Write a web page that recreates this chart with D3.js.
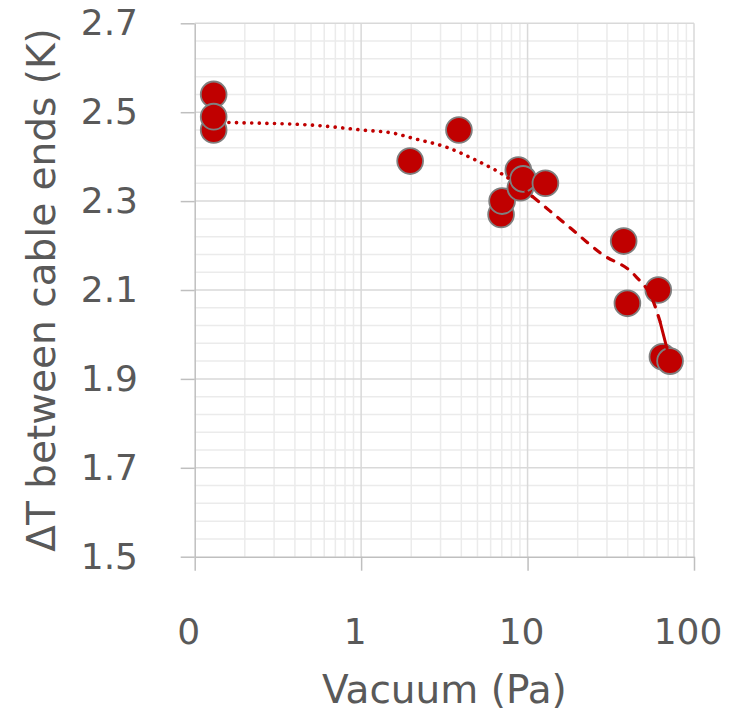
<!DOCTYPE html>
<html>
<head>
<meta charset="utf-8">
<script src="https://cdn.jsdelivr.net/npm/d3@7"></script>
<style>
  html, body { margin: 0; padding: 0; background: #fff; }
  svg { display: block; }
</style>
</head>
<body>
<svg id="chart" width="737" height="716"></svg>
<script>
// ---- data ----
const vacuumPa = [0.13, 0.13, 0.13, 1.97, 3.87, 6.93, 7.03, 8.8, 9.05, 9.4, 12.8, 37.8, 39.8, 61, 64.6, 71.8];
const deltaT   = [2.54, 2.46, 2.49, 2.39, 2.46, 2.27, 2.30, 2.37, 2.33, 2.35, 2.34, 2.21, 2.07, 2.10, 1.95, 1.94];

// trendline as drawn in the reference
const trendX = [0.13, 0.159, 0.505, 1.008, 1.6, 2.06, 3.27, 4.95, 6.53, 7.85, 10.8, 13.6, 18.4, 27.9, 44.3, 57, 62.5, 68.7, 71.8];
const trendY = [2.478, 2.477, 2.471, 2.460, 2.452, 2.441, 2.421, 2.391, 2.368, 2.349, 2.309, 2.278, 2.237, 2.181, 2.132, 2.074, 2.029, 1.969, 1.94];
const trendDottedUntil = 10.8;   // x where dotted look ends
const trendSolidFrom = 62.5;     // x where solid look begins

const xTickValues = [0.1, 1, 10, 100];
const xTickLabels = ["0", "1", "10", "100"];
const yTickValues = [1.5, 1.7, 1.9, 2.1, 2.3, 2.5, 2.7];
const yTickLabels = ["1.5", "1.7", "1.9", "2.1", "2.3", "2.5", "2.7"];
const xDomain = [0.1, 100];
const yDomain = [1.5, 2.7];
const xTitle = "Vacuum (Pa)";
const yTitle = "ΔT between cable ends (K)";

(function () {
// ---- layout ----
const svg = d3.select("#chart");
const pLeft = 194.7, pRight = 694, pTop = 23.3, pBottom = 556.7;
const font = "Verdana, 'DejaVu Sans', sans-serif";
const textColor = "#595959";
const red = "#c00000";

const x = d3.scaleLog().domain(xDomain).range([pLeft, pRight]);
const y = d3.scaleLinear().domain(yDomain).range([pBottom, pTop]);

// minor grid values
const xMinor = [];
for (let d = 0.1; d < 100; d *= 10) {
  for (let k = 2; k <= 9; k++) xMinor.push(+(d * k).toPrecision(3));
}
const yMinor = d3.range(0, 31).map(i => +(yDomain[0] + i * 0.04).toFixed(2))
  .filter(v => !yTickValues.some(t => Math.abs(t - v) < 1e-6));

const grid = svg.append("g");
grid.selectAll("line.ym").data(yMinor).join("line")
  .attr("x1", pLeft).attr("x2", pRight)
  .attr("y1", d => y(d)).attr("y2", d => y(d))
  .attr("stroke", "#ebebeb").attr("stroke-width", 1.5);
grid.selectAll("line.xm").data(xMinor).join("line")
  .attr("y1", pTop).attr("y2", pBottom)
  .attr("x1", d => x(d)).attr("x2", d => x(d))
  .attr("stroke", "#ebebeb").attr("stroke-width", 1.5);
grid.selectAll("line.yM").data(yTickValues.slice(1)).join("line")
  .attr("x1", pLeft).attr("x2", pRight)
  .attr("y1", d => y(d)).attr("y2", d => y(d))
  .attr("stroke", "#d9d9d9").attr("stroke-width", 1.5);
grid.selectAll("line.xM").data(xTickValues.slice(1)).join("line")
  .attr("y1", pTop).attr("y2", pBottom)
  .attr("x1", d => x(d)).attr("x2", d => x(d))
  .attr("stroke", "#d9d9d9").attr("stroke-width", 1.5);

// axes
const xAxis = d3.axisBottom(x).tickValues(xTickValues)
  .tickFormat((d, i) => xTickLabels[i]).tickSizeInner(14).tickSizeOuter(0);
const gx = svg.append("g").attr("transform", `translate(0,${pBottom})`).call(xAxis);
gx.select(".domain").attr("stroke", "#bfbfbf").attr("stroke-width", 1.5);
gx.selectAll(".tick line").attr("stroke", "#bfbfbf").attr("stroke-width", 1.5);
gx.selectAll(".tick text")
  .attr("y", 87).attr("dy", null).attr("dx", -6.5)
  .attr("fill", textColor).style("font-family", font).style("font-size", "36px");

const yAxis = d3.axisLeft(y).tickValues(yTickValues)
  .tickFormat((d, i) => yTickLabels[i]).tickSizeInner(14).tickSizeOuter(0).tickPadding(42.7);
const gy = svg.append("g").attr("transform", `translate(${pLeft},0)`).call(yAxis);
gy.select(".domain").attr("stroke", "#bfbfbf").attr("stroke-width", 1.5);
gy.selectAll(".tick line").attr("stroke", "#bfbfbf").attr("stroke-width", 1.5);
gy.selectAll(".tick text")
  .attr("fill", textColor).style("font-family", font).style("font-size", "36px");

// points
const pts = vacuumPa.map((v, i) => ({ x: v, y: deltaT[i] }));
svg.append("g").selectAll("circle").data(pts).join("circle")
  .attr("cx", d => x(d.x)).attr("cy", d => y(d.y)).attr("r", 12.9)
  .attr("fill", red).attr("stroke", "#7f7f7f").attr("stroke-width", 1.8);

// trendline
const trend = trendX.map((v, i) => ({ x: v, y: trendY[i] }));
const line = d3.line().x(d => x(d.x)).y(d => y(d.y)).curve(d3.curveMonotoneX);
const tg = svg.append("g").attr("fill", "none").attr("stroke", red);
tg.append("path").datum(trend.filter(d => d.x <= trendDottedUntil))
  .attr("d", line).attr("stroke-width", 3.6).attr("stroke-linecap", "round")
  .attr("stroke-dasharray", "0.1 7.5");
tg.append("path").datum(trend.filter(d => d.x >= trendDottedUntil && d.x <= trendSolidFrom))
  .attr("d", line).attr("stroke-width", 3.2).attr("stroke-linecap", "round")
  .attr("stroke-dasharray", "7 9");
tg.append("path").datum(trend.filter(d => d.x >= trendSolidFrom))
  .attr("d", line).attr("stroke-width", 3);

// titles
svg.append("text").text(xTitle)
  .attr("x", (pLeft + pRight) / 2).attr("y", 703)
  .attr("text-anchor", "middle").attr("fill", textColor)
  .style("font-family", font).style("font-size", "39px");
svg.append("text").text(yTitle)
  .attr("transform", `translate(55,${(pTop + pBottom) / 2}) rotate(-90)`)
  .attr("text-anchor", "middle").attr("fill", textColor)
  .style("font-family", font).style("font-size", "39px");
})();
</script>
</body>
</html>
